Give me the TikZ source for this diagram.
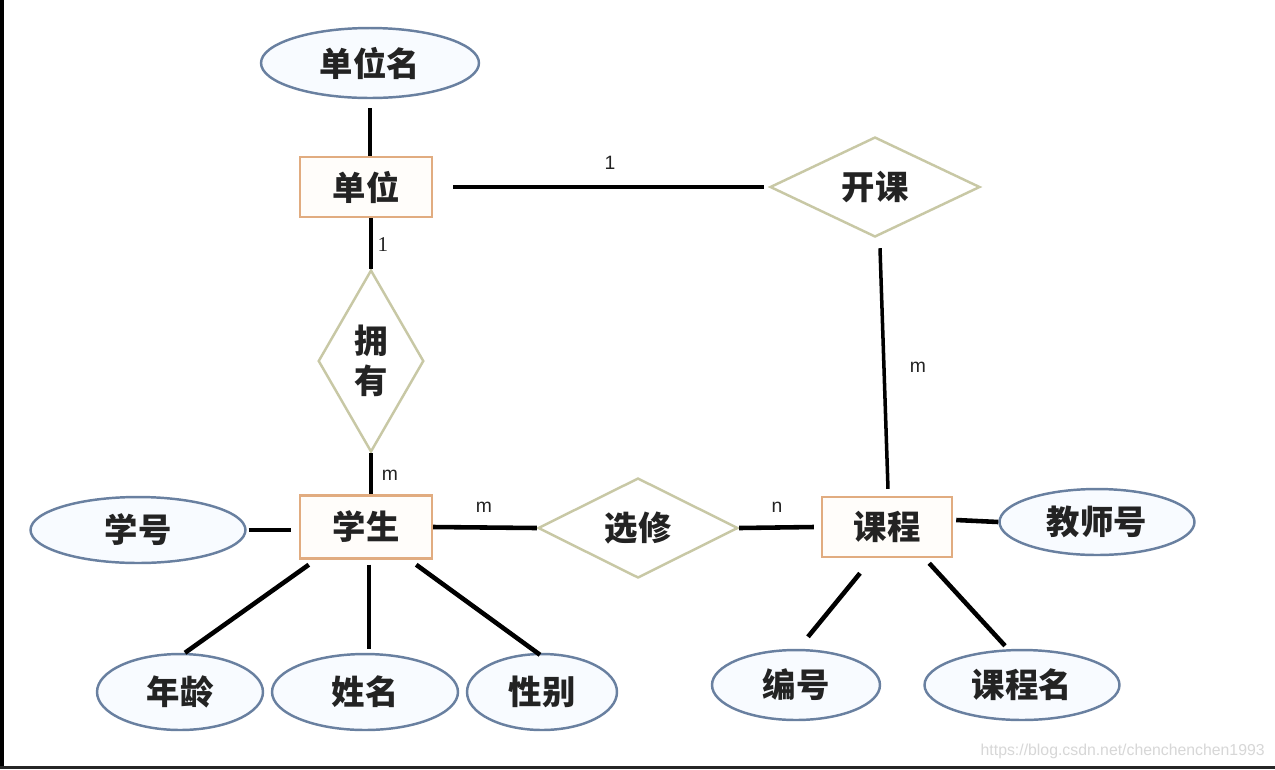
\documentclass[tikz,border=0pt]{standalone}
\usepackage{fontspec}
\setmainfont{Liberation Sans}
\newfontfamily\cjkfam{Noto Sans CJK SC}
\newfontfamily\serifnum{Liberation Serif}
\usetikzlibrary{shapes.geometric,calc}
\definecolor{attrc}{RGB}{105,128,160}
\definecolor{attrfill}{RGB}{248,251,255}
\definecolor{entc}{RGB}{225,172,128}
\definecolor{entfill}{RGB}{255,253,250}
\definecolor{relc}{RGB}{200,200,165}
\definecolor{txtc}{RGB}{35,35,35}
\definecolor{wmc}{RGB}{215,215,215}
\newcommand\ercjk{\fontsize{19pt}{23pt}\cjkfam\bfseries}
\tikzset{
  attr/.style={ellipse, draw=attrc, line width=1.4pt, fill=attrfill, inner sep=0pt, text=txtc, font=\ercjk},
  entity/.style={rectangle, draw=entc, line width=1.4pt, fill=entfill, inner sep=0pt, text=txtc, font=\ercjk},
  rel/.style={diamond, draw=relc, line width=1.4pt, fill=white, inner sep=0pt, text=txtc, font=\ercjk},
  conn/.style={draw=black, line width=2.6pt},
  connthin/.style={draw=black, line width=2pt},
  lbl/.style={inner sep=0pt, text=txtc, font=\fontsize{11pt}{12pt}\selectfont},
}
\begin{document}
\begin{tikzpicture}[x=0.02cm,y=-0.02cm]
\useasboundingbox (0,0) rectangle (1275,769);
\fill[white] (0,0) rectangle (1275,769);
\fill[black] (0,0) rectangle (4,769);
\fill[black!85] (0,766) rectangle (1275,769);

% nodes
\node[attr, minimum width=4.36cm, minimum height=1.4cm] (unitname) at (370,63) {单位名};
\node[entity, minimum width=2.64cm, minimum height=1.2cm] (unit) at (366,187) {单位};
\node[rel, minimum width=2.04cm, minimum height=3.64cm, align=center] (have) at (371,361) {拥\\有};
\node[rel, minimum width=4.2cm, minimum height=2cm] (kaike) at (875,187) {开课};
\node[entity, minimum width=2.64cm, minimum height=1.26cm] (stu) at (366,527) {学生};
\node[attr, minimum width=4.3cm, minimum height=1.32cm] (xuehao) at (138,530) {学号};
\node[rel, minimum width=4cm, minimum height=2cm] (xuanxiu) at (638,528) {选修};
\node[entity, minimum width=2.6cm, minimum height=1.2cm] (course) at (887,527) {课程};
\node[attr, minimum width=3.9cm, minimum height=1.32cm] (teacher) at (1097,522) {教师号};
\node[attr, minimum width=3.32cm, minimum height=1.52cm] (age) at (180,692) {年龄};
\node[attr, minimum width=3.72cm, minimum height=1.52cm] (name) at (365,692) {姓名};
\node[attr, minimum width=3.0cm, minimum height=1.52cm] (sex) at (542,692) {性别};
\node[attr, minimum width=3.36cm, minimum height=1.4cm] (cno) at (796,685) {编号};
\node[attr, minimum width=3.9cm, minimum height=1.4cm] (cname) at (1022,685) {课程名};

% connectors
\draw[conn] ($(unitname.south)+(0,9)$) -- (unitname.south |- unit.north);
\draw[conn] (unit.south -| have.north) -- (have.north);
\draw[conn] (have.south) -- (have.south |- stu.north);
\draw[conn] ($(unit.east)+(20,0)$) -- ($(kaike.west)+(-5,0)$);
\draw[connthin] ($(kaike.south)+(5,10)$) -- ($(course.north)+(1,-7)$);
\draw[conn] (stu.east) -- (xuanxiu.west);
\draw[conn] (xuanxiu.east) -- ($(course.west)+(-7,0)$);
\draw[conn] ($(course.east)+(3,-7)$) -- (teacher.west);
\draw[conn] ($(xuehao.east)+(2,0)$) -- ($(stu.west)+(-8,3)$);
\draw[conn] ($(stu.south west)+(10,5)$) -- ($(age.north)+(5,0)$);
\draw[conn] ($(stu.south)+(3,5)$) -- ($(name.north)+(4,-4)$);
\draw[conn] ($(stu.south east)+(-17,5)$) -- ($(sex.north)+(-2,2)$);
\draw[conn] ($(course.south)+(-27,15)$) -- ($(cno.north)+(12,-12)$);
\draw[conn] ($(course.south east)+(-24,5)$) -- ($(cname.north)+(-17,-3)$);

% cardinality labels
\node[lbl, font=\fontsize{12pt}{13pt}\serifnum] (c1) at (383,245) {1};
\node[lbl] (c2) at (390,475) {m};
\node[lbl] (c3) at (610,163) {1};
\node[lbl] (c4) at (484,507) {m};
\node[lbl] (c5) at (777,507) {n};
\node[lbl] (c6) at (918,367) {m};

% watermark
\node[anchor=base east, inner sep=0pt, text=wmc, font=\fontsize{9pt}{10pt}\selectfont] (wm) at (1265,755) {https://blog.csdn.net/chenchenchen1993};
\end{tikzpicture}
\end{document}
